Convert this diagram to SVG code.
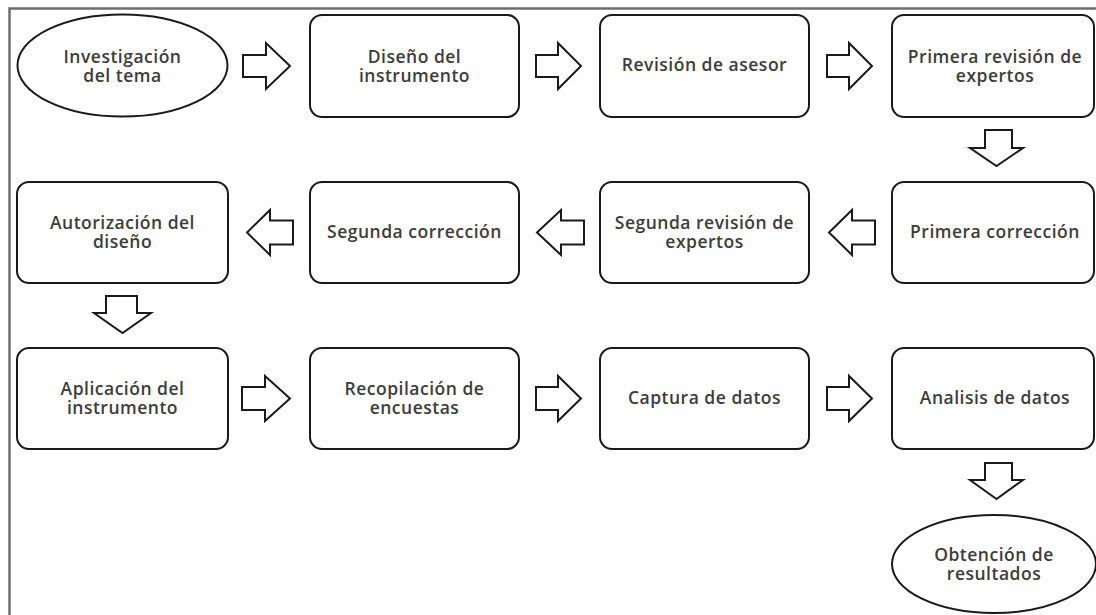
<svg xmlns="http://www.w3.org/2000/svg" width="1096" height="615" viewBox="0 0 1096 615">
<style>
.frame{fill:none;stroke:#6e6e6e;stroke-width:2.5}
.box{fill:#fff;stroke:#1a1a1a;stroke-width:2}
.arr{fill:#fff;stroke:#1a1a1a;stroke-width:2;stroke-linejoin:miter}
text{font-family:"Open Sans","Noto Sans","Liberation Sans",sans-serif;font-size:17.5px;font-weight:600;letter-spacing:0.5px;fill:#3c3c3c;text-anchor:middle}
</style>
<rect width="1096" height="615" fill="#fff"/>
<path class="frame" d="M9.5 615 V8.5 H1096"/>
<g id="n1"><ellipse class="box" cx="122.5" cy="65.5" rx="105" ry="51"/><text x="122.5" y="62.5">Investigación</text><text x="122.5" y="81.5">del tema</text></g>
<g id="n2"><rect class="box" x="310" y="15" width="209" height="102" rx="12"/><text x="414.5" y="62.5">Diseño del</text><text x="414.5" y="81.5">instrumento</text></g>
<g id="n3"><rect class="box" x="600" y="15" width="209" height="102" rx="12"/><text x="704.5" y="71">Revisión de asesor</text></g>
<g id="n4"><rect class="box" x="892" y="15" width="202" height="102" rx="12"/><text x="995" y="62.5">Primera revisión de</text><text x="995" y="81.5">expertos</text></g>
<g id="n5"><rect class="box" x="892" y="182" width="202" height="101" rx="12"/><text x="995" y="238">Primera corrección</text></g>
<g id="n6"><rect class="box" x="600" y="182" width="209" height="101" rx="12"/><text x="704.5" y="229">Segunda revisión de</text><text x="704.5" y="248">expertos</text></g>
<g id="n7"><rect class="box" x="310" y="182" width="209" height="101" rx="12"/><text x="414.5" y="238">Segunda corrección</text></g>
<g id="n8"><rect class="box" x="17" y="182" width="211" height="101" rx="12"/><text x="122.5" y="229">Autorización del</text><text x="122.5" y="248">diseño</text></g>
<g id="n9"><rect class="box" x="17" y="348" width="211" height="101" rx="12"/><text x="122.5" y="395">Aplicación del</text><text x="122.5" y="414">instrumento</text></g>
<g id="n10"><rect class="box" x="310" y="348" width="209" height="101" rx="12"/><text x="414.5" y="395">Recopilación de</text><text x="414.5" y="414">encuestas</text></g>
<g id="n11"><rect class="box" x="600" y="348" width="209" height="101" rx="12"/><text x="704.5" y="404">Captura de datos</text></g>
<g id="n12"><rect class="box" x="892" y="348" width="202" height="101" rx="12"/><text x="995" y="404">Analisis de datos</text></g>
<g id="n13"><ellipse class="box" cx="994" cy="564" rx="102" ry="49"/><text x="994" y="560.5">Obtención de</text><text x="994" y="579.5">resultados</text></g>
<g id="connectors">
<path class="arr" d="M243 55 H266 V43 L290 66 L266 89 V77 H243 Z"/>
<path class="arr" d="M536 55 H558 V43 L581 66 L558 89 V77 H536 Z"/>
<path class="arr" d="M827 55 H849 V43 L872 66 L849 89 V77 H827 Z"/>
<path class="arr" d="M985 130 H1012 V148 H1023 L996.5 166 L970 148 H985 Z"/>
<path class="arr" d="M875 220.5 H852 V210 L829 232.5 L852 255 V244.5 H875 Z"/>
<path class="arr" d="M584 220.5 H561 V210 L537 232.5 L561 255 V244.5 H584 Z"/>
<path class="arr" d="M293 220.5 H270 V210 L247 232.5 L270 255 V244.5 H293 Z"/>
<path class="arr" d="M106 296 H137 V313 H151 L122.5 333 L94 313 H106 Z"/>
<path class="arr" d="M242 387 H265 V376 L290 398.5 L265 421 V410 H242 Z"/>
<path class="arr" d="M536 387 H558 V376 L581 398.5 L558 421 V410 H536 Z"/>
<path class="arr" d="M827 387 H849 V376 L872 398.5 L849 421 V410 H827 Z"/>
<path class="arr" d="M985 463 H1012 V480 H1023 L996.5 499 L970 480 H985 Z"/>
</g>
</svg>
